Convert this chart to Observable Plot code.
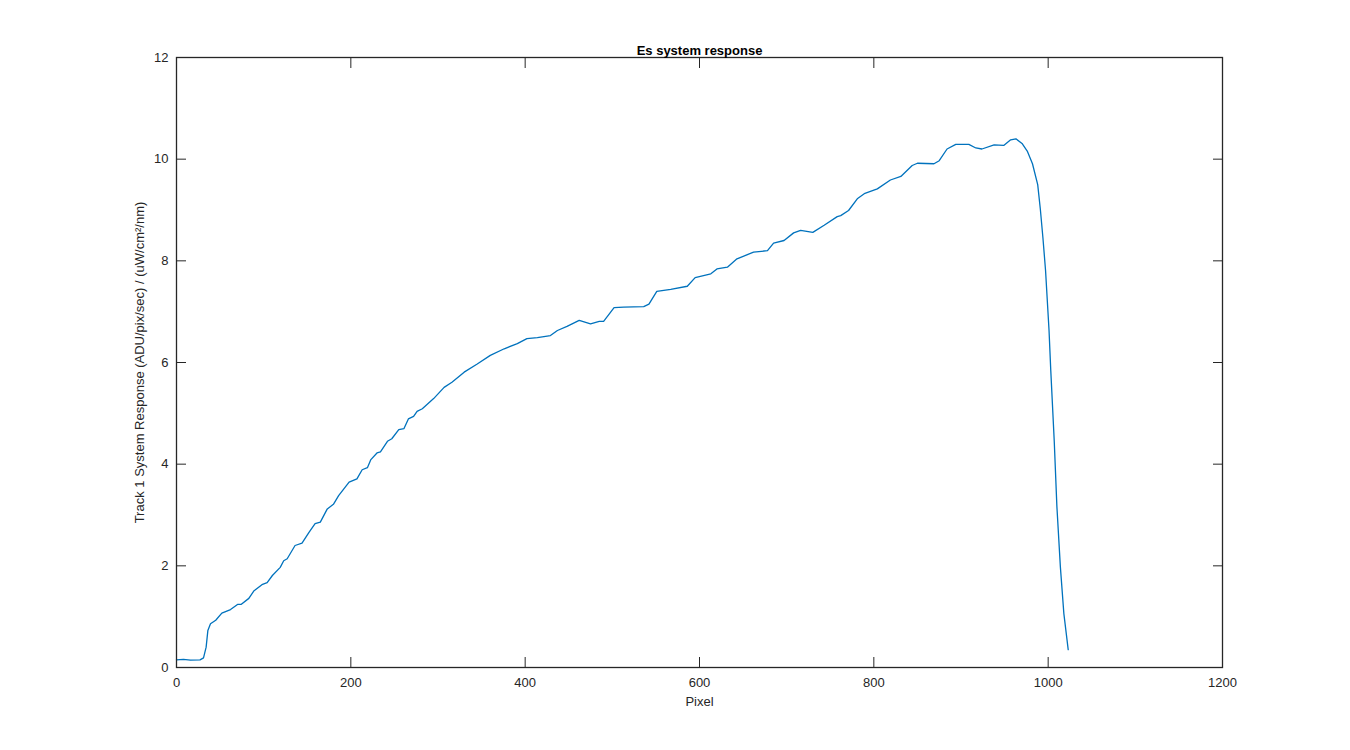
<!DOCTYPE html>
<html><head><meta charset="utf-8">
<script src="https://cdn.jsdelivr.net/npm/d3@7"></script>
<script src="https://cdn.jsdelivr.net/npm/@observablehq/plot@0.6"></script>
<style>body{margin:0;background:#fff}</style>
</head><body><div id="chart"></div>
<script>
const pixel = [0,8,16,27,31,34,36,39,45,52,62,70,74,83,89,98,104,110,119,123,127,136,144,152,159,165,173,180,186,198,207,213,219,223,230,234,242,247,255,261,266,272,276,282,295,307,316,330,345,360,376,391,402,414,429,437,448,462,475,485,490,502,513,536,542,551,567,586,595,613,620,632,643,662,678,685,697,708,716,730,743,758,762,771,781,789,804,819,831,844,850,869,875,884,894,909,917,924,938,949,957,963,970,976,982,988,991,994,997,1001,1003,1007,1010,1014,1018,1023];
const response = [0.15,0.16,0.145,0.15,0.19,0.40,0.73,0.86,0.93,1.07,1.14,1.24,1.24,1.36,1.51,1.63,1.67,1.81,1.97,2.10,2.14,2.40,2.445,2.66,2.83,2.86,3.12,3.21,3.38,3.645,3.71,3.89,3.93,4.09,4.22,4.24,4.45,4.50,4.68,4.70,4.89,4.94,5.04,5.09,5.29,5.51,5.61,5.81,5.97,6.14,6.27,6.37,6.47,6.49,6.53,6.63,6.71,6.83,6.76,6.81,6.81,7.08,7.09,7.10,7.15,7.40,7.44,7.50,7.67,7.745,7.84,7.875,8.04,8.17,8.20,8.35,8.40,8.55,8.60,8.56,8.70,8.87,8.89,8.99,9.22,9.32,9.415,9.59,9.66,9.875,9.92,9.91,9.97,10.20,10.29,10.29,10.22,10.20,10.28,10.27,10.38,10.40,10.31,10.16,9.91,9.50,9.02,8.45,7.81,6.63,5.84,4.44,3.17,1.98,1.06,0.35];
const xTicks = [0,200,400,600,800,1000,1200];
const yTicks = [0,2,4,6,8,10,12];
const title = "Es system response";
const xLabel = "Pixel";
const yLabel = "Track 1 System Response (ADU/pix/sec) / (uW/cm²/nm)";

const data = pixel.map((p, i) => ({pixel: p, response: response[i]}));
const axisColor = "#262626";
const fmt = d => String(d);

const chart = Plot.plot({
  width: 1350, height: 750,
  marginLeft: 176, marginRight: 128, marginTop: 57, marginBottom: 83,
  style: {fontFamily: "'Liberation Sans', Arial, sans-serif", fontSize: "13px", color: axisColor, background: "white"},
  x: {domain: [0, 1200]},
  y: {domain: [0, 12]},
  marks: [
    Plot.line(data, {x: "pixel", y: "response", stroke: "#0072BD", strokeWidth: 1.3}),
    Plot.frame({stroke: axisColor, strokeWidth: 1.3}),
    Plot.axisX(xTicks, {anchor: "bottom", tickSize: -10, tickPadding: 20, tickFormat: fmt, label: null, stroke: axisColor, fill: axisColor}),
    Plot.axisX(xTicks, {anchor: "top", tickSize: -10, tickFormat: () => "", label: null, stroke: axisColor}),
    Plot.axisY(yTicks, {anchor: "left", tickSize: -10, tickPadding: 18, tickFormat: fmt, label: null, stroke: axisColor, fill: axisColor}),
    Plot.axisY(yTicks, {anchor: "right", tickSize: -10, tickFormat: () => "", label: null, stroke: axisColor}),
    Plot.text([title], {text: d => d, frameAnchor: "top", dy: -12, fontWeight: "bold", fontSize: 13, fill: "#000"}),
    Plot.text([xLabel], {text: d => d, frameAnchor: "bottom", dy: 38, fontSize: 13, fill: axisColor}),
    Plot.text([yLabel], {text: d => d, frameAnchor: "left", dx: -37, rotate: -90, textAnchor: "middle", fontSize: 13, fill: axisColor})
  ]
});
document.getElementById("chart").append(chart);
</script>
</body></html>
